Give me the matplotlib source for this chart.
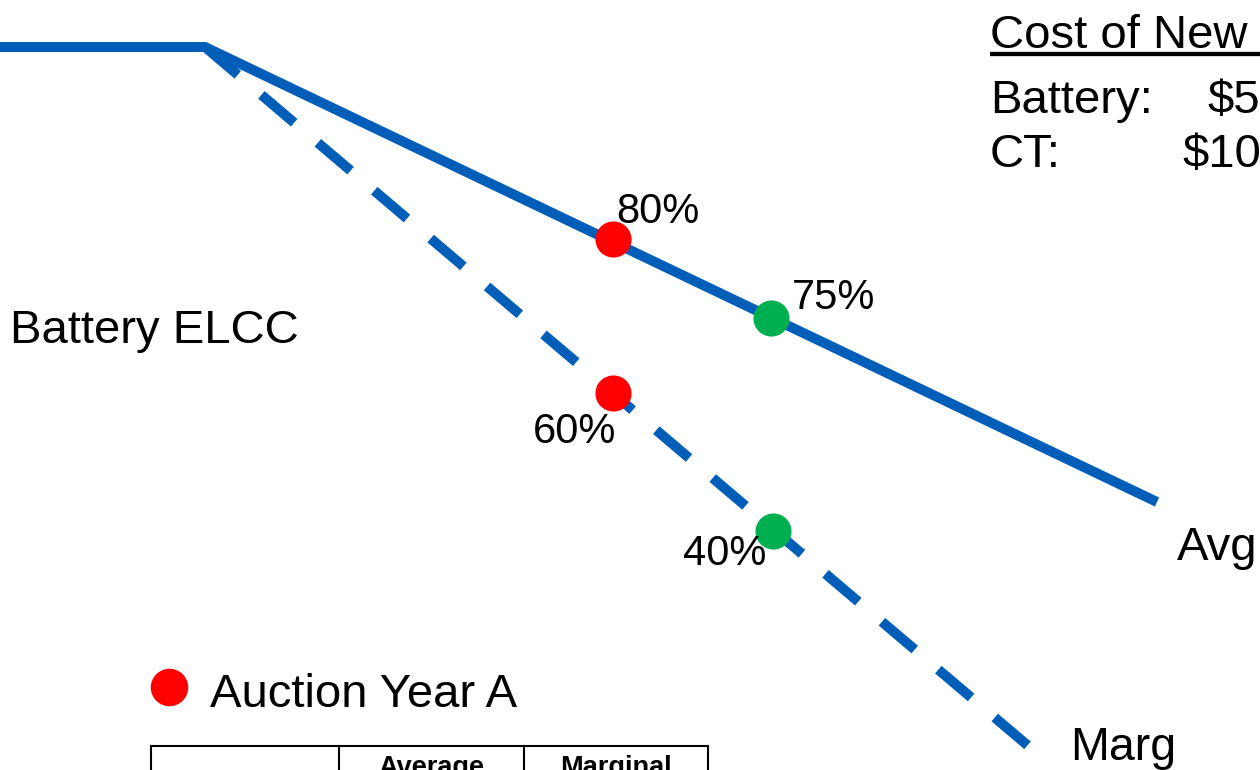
import matplotlib
matplotlib.use("Agg")
import matplotlib.pyplot as plt

plt.rcParams['font.family'] = ['Liberation Sans', 'DejaVu Sans']

# Schematic ELCC curves (x: battery quantity, y: drawing units, downward = lower ELCC)
avg_x = [0, 205, 1157]
avg_y = [47, 47, 502]
marg_x = [205, 1033]
marg_y = [47, 750]

# Auction-year points on each curve
year_a_x = 613
year_b_x = 771
avg_pt_y = [239, 318]          # year A, year B on the average curve
marg_pt_y = [393, 531]         # year A, year B on the marginal curve
avg_elcc = ["80%", "75%"]
marg_elcc = ["60%", "40%"]

cost_rows = ["Battery:", "CT:"]
cost_vals = ["$5", "$10"]
table_headers = ["Average", "Marginal"]

BLUE = "#005EB8"
RED = "#FF0000"
GREEN = "#00B050"

fig = plt.figure(figsize=(12.6, 7.7), dpi=100)
ax = fig.add_axes([0, 0, 1, 1])
ax.set_xlim(0, 1260)
ax.set_ylim(770, 0)
ax.axis("off")

lw = 7.2
ax.plot(avg_x, avg_y, color=BLUE, lw=lw, solid_capstyle="butt", solid_joinstyle="miter", zorder=2)
ax.plot(marg_x, marg_y, color=BLUE, lw=lw, linestyle=(0, (4.3, 3.1)),
        dash_capstyle="butt", zorder=2)

ms = 26
ax.plot([year_a_x], [avg_pt_y[0]], "o", color=RED, ms=ms, mec="none", zorder=3)
ax.plot([year_b_x], [avg_pt_y[1]], "o", color=GREEN, ms=ms, mec="none", zorder=3)
ax.plot([year_a_x], [marg_pt_y[0]], "o", color=RED, ms=ms, mec="none", zorder=3)
ax.plot([year_b_x + 2], [marg_pt_y[1]], "o", color=GREEN, ms=ms, mec="none", zorder=3)

pct_fs = 30
ax.text(year_a_x + 3, avg_pt_y[0] - 16, avg_elcc[0], fontsize=pct_fs, va="baseline", ha="left")
ax.text(year_b_x + 21, avg_pt_y[1] - 9, avg_elcc[1], fontsize=pct_fs, va="baseline", ha="left")
ax.text(year_a_x - 80, marg_pt_y[0] + 50, marg_elcc[0], fontsize=pct_fs, va="baseline", ha="left")
ax.text(year_b_x - 88, marg_pt_y[1] + 34, marg_elcc[1], fontsize=pct_fs, va="baseline", ha="left")

big = 34
ax.text(10, 343, "Battery ELCC", fontsize=big, va="baseline", ha="left")
ax.text(1177, 560, "Avg", fontsize=big, va="baseline", ha="left")
ax.text(1070, 760, "Marg", fontsize=33.5, va="baseline", ha="left")

# Cost of new entry box (top right)
ax.text(990, 48, "Cost of New", fontsize=big, va="baseline", ha="left")
ax.plot([990, 1262], [54, 54], color="black", lw=3.1, solid_capstyle="butt")
ax.text(990, 113, cost_rows[0], fontsize=big, va="baseline", ha="left")
ax.text(1207, 113, cost_vals[0], fontsize=big, va="baseline", ha="left")
ax.text(990, 167, cost_rows[1], fontsize=big, va="baseline", ha="left")
ax.text(1182, 167, cost_vals[1], fontsize=big, va="baseline", ha="left")

# Legend entry
ax.plot([169], [687], "o", color=RED, ms=27, mec="none")
ax.text(210, 707, "Auction Year A", fontsize=big, va="baseline", ha="left")

# Table header (continues below the frame)
tx = [151, 339, 524, 708]
ax.plot([tx[0], tx[-1]], [746, 746], color="black", lw=1.5, solid_capstyle="projecting")
for x in tx:
    ax.plot([x, x], [746, 780], color="black", lw=1.5)
for i, h in enumerate(table_headers):
    ax.text((tx[i + 1] + tx[i + 2]) / 2, 775, h, fontsize=19.5, fontweight="bold",
            va="baseline", ha="center")

fig.savefig("out.png", dpi=100)
